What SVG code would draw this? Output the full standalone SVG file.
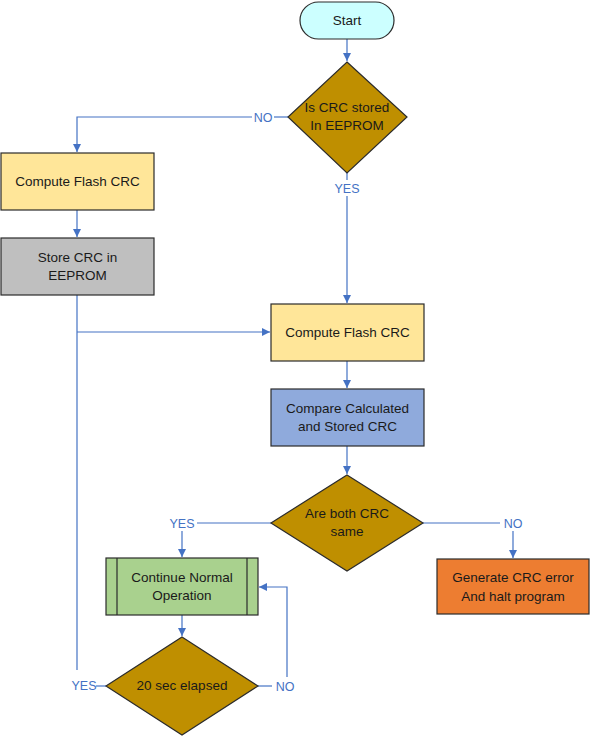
<svg xmlns="http://www.w3.org/2000/svg" width="590" height="736" viewBox="0 0 590 736">
<style>
.shape{stroke:#2b2b2b;stroke-width:1.2}
.t{font-family:"Liberation Sans",Arial,sans-serif;font-size:13.5px;fill:#1a1a1a;text-anchor:middle}
.lbl{font-family:"Liberation Sans",Arial,sans-serif;font-size:12.5px;fill:#4472C4;text-anchor:middle}
.c{fill:none;stroke:#4472C4;stroke-width:1.2}
</style>
<defs>
<marker id="ah" markerWidth="10" markerHeight="10" refX="9" refY="5" orient="auto" markerUnits="userSpaceOnUse">
<path d="M1,1 L9,5 L1,9 Z" fill="#4472C4"/>
</marker>
</defs>
<rect width="590" height="736" fill="#ffffff"/>
<g id="connectors">
<path class="c" d="M347,39 V61" marker-end="url(#ah)"/>
<path class="c" d="M288,117 H274"/>
<path class="c" d="M252,117 H77 V152" marker-end="url(#ah)"/>
<path class="c" d="M347,173 V180"/>
<path class="c" d="M347,196 V303" marker-end="url(#ah)"/>
<path class="c" d="M77,210 V237" marker-end="url(#ah)"/>
<path class="c" d="M77,295 V670"/>
<path class="c" d="M77,332 H270" marker-end="url(#ah)"/>
<path class="c" d="M347,361 V388" marker-end="url(#ah)"/>
<path class="c" d="M347,446 V474" marker-end="url(#ah)"/>
<path class="c" d="M271,523 H197"/>
<path class="c" d="M182,531 V557" marker-end="url(#ah)"/>
<path class="c" d="M423,523 H500"/>
<path class="c" d="M513,531 V558" marker-end="url(#ah)"/>
<path class="c" d="M182,615 V636" marker-end="url(#ah)"/>
<path class="c" d="M106,686 H96"/>
<path class="c" d="M258,686 H272"/>
<path class="c" d="M287,677 V587 H259" marker-end="url(#ah)"/>
<text class="lbl" x="263" y="121.5">NO</text>
<text class="lbl" x="347" y="193">YES</text>
<text class="lbl" x="182" y="528">YES</text>
<text class="lbl" x="513" y="527.5">NO</text>
<text class="lbl" x="84" y="690">YES</text>
<text class="lbl" x="285" y="691">NO</text>
</g>
<g id="start">
<rect class="shape" x="300" y="2" width="94" height="37" rx="18.5" fill="#CCFFFF"/>
<text class="t" x="347" y="25">Start</text>
</g>
<g id="is-crc-stored">
<polygon class="shape" points="347,62 407,117 347,173 288,117" fill="#BF8F00"/>
<text class="t" x="347" y="112">Is CRC stored</text>
<text class="t" x="347" y="130">In EEPROM</text>
</g>
<g id="compute-flash-crc-left">
<rect class="shape" x="1" y="153" width="153" height="57" fill="#FFE699"/>
<text class="t" x="77.5" y="186">Compute Flash CRC</text>
</g>
<g id="store-crc">
<rect class="shape" x="1" y="238" width="153" height="57" fill="#BFBFBF"/>
<text class="t" x="77.5" y="262">Store CRC in</text>
<text class="t" x="77.5" y="280">EEPROM</text>
</g>
<g id="compute-flash-crc-right">
<rect class="shape" x="271" y="304" width="153" height="57" fill="#FFE699"/>
<text class="t" x="347.5" y="337">Compute Flash CRC</text>
</g>
<g id="compare">
<rect class="shape" x="271" y="389" width="153" height="57" fill="#8FAADC"/>
<text class="t" x="347.5" y="413">Compare Calculated</text>
<text class="t" x="347.5" y="431">and Stored CRC</text>
</g>
<g id="are-both-same">
<polygon class="shape" points="347,475 423,523 347,571 271,523" fill="#BF8F00"/>
<text class="t" x="347" y="518">Are both CRC</text>
<text class="t" x="347" y="536">same</text>
</g>
<g id="continue-normal">
<rect class="shape" x="106" y="558" width="152" height="57" fill="#A9D18E"/>
<line class="shape" x1="117" y1="558" x2="117" y2="615"/>
<line class="shape" x1="247" y1="558" x2="247" y2="615"/>
<text class="t" x="182" y="582">Continue Normal</text>
<text class="t" x="182" y="600">Operation</text>
</g>
<g id="crc-error">
<rect class="shape" x="437" y="559" width="152" height="55" fill="#ED7D31"/>
<text class="t" x="513" y="582">Generate CRC error</text>
<text class="t" x="513" y="601">And halt program</text>
</g>
<g id="twenty-sec">
<polygon class="shape" points="182,637 258,686 182,735 106,686" fill="#BF8F00"/>
<text class="t" x="182" y="690">20 sec elapsed</text>
</g>
</svg>
